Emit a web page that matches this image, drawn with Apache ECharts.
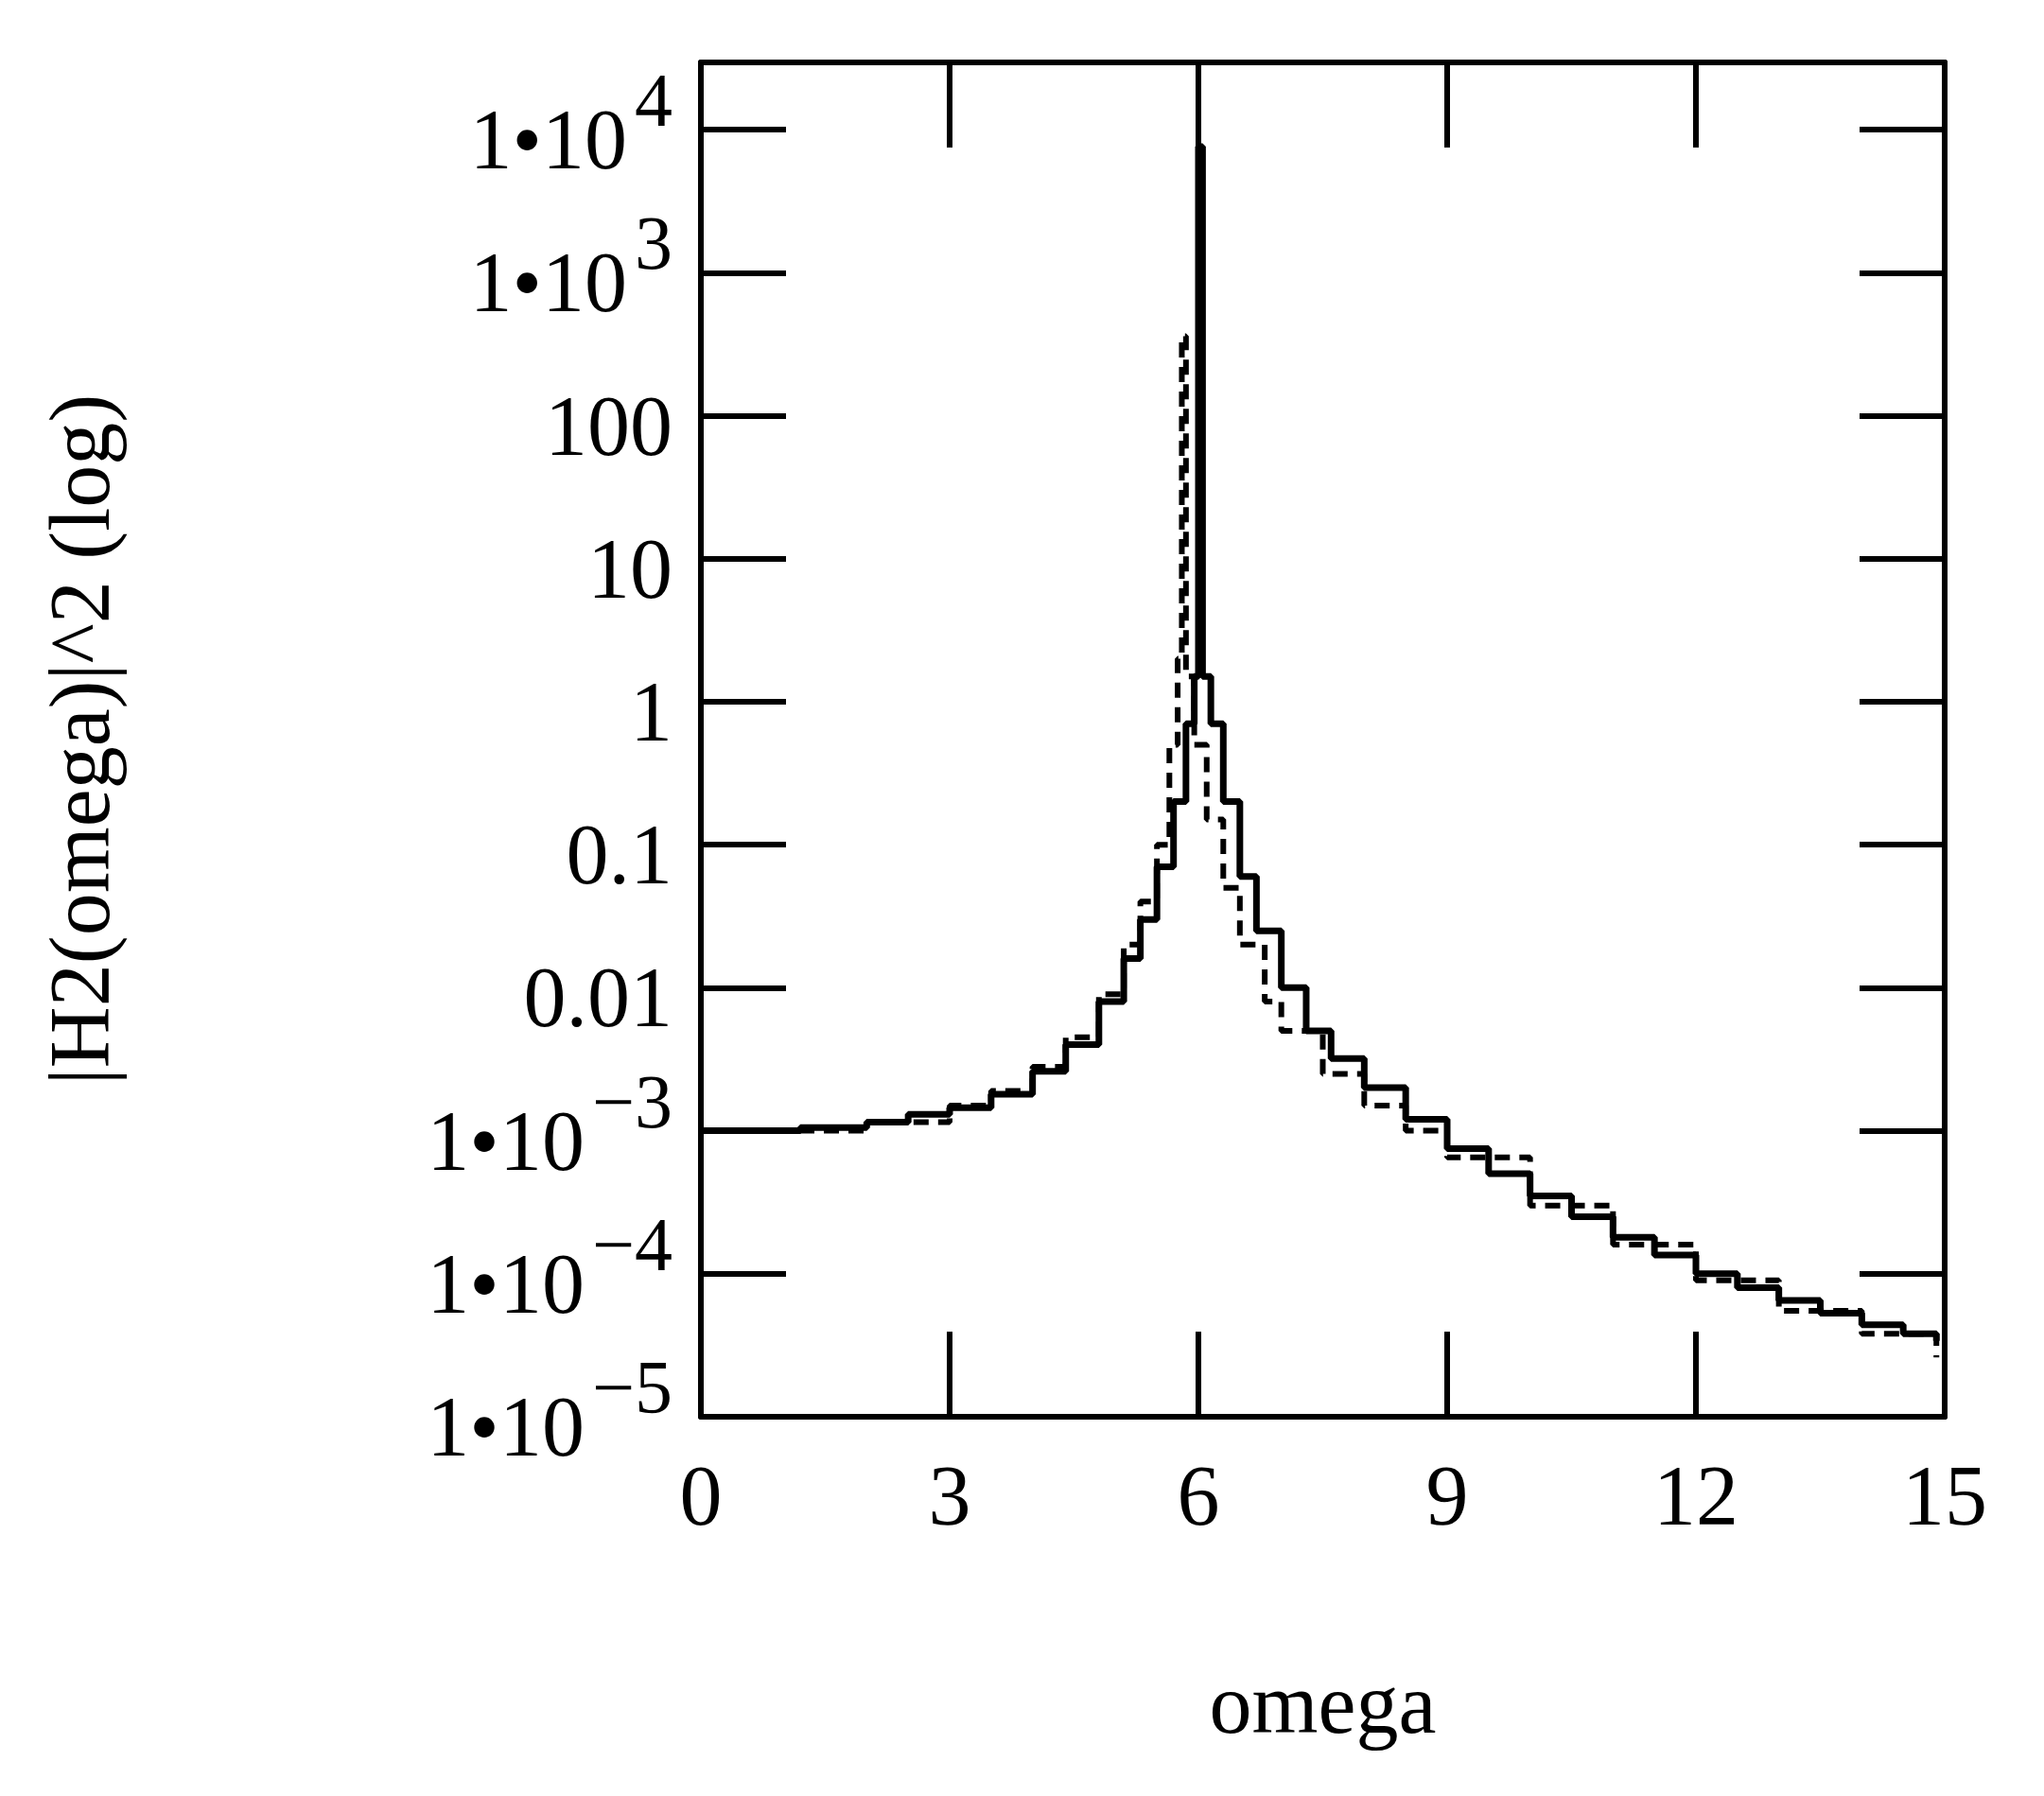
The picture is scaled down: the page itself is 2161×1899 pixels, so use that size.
<!DOCTYPE html>
<html><head><meta charset="utf-8">
<script src="https://cdn.jsdelivr.net/npm/echarts@6/dist/echarts.min.js"></script>
<style>html,body{margin:0;padding:0;background:#fff}#c{width:2161px;height:1899px}</style>
</head><body><div id="c"></div>
<script>
const xTicks = [0,3,6,9,12,15];
const yTickLabels = {"-5":"1•10|−5","-4":"1•10|−4","-3":"1•10|−3","-2":"0.01","-1":"0.1","0":"1","1":"10","2":"100","3":"1•10|3","4":"1•10|4"};
const omegaSolid = [0,1.2,2,2.5,3,3.5,4,4.4,4.8,5.1,5.3,5.5,5.7,5.85,5.95,6.0,6.05,6.15,6.3,6.5,6.7,7,7.3,7.6,8,8.5,9,9.5,10,10.5,11,11.5,12,12.5,13,13.5,14,14.5,14.9];
const h2Solid = [1e-3,1.05e-3,1.15e-3,1.3e-3,1.45e-3,1.8e-3,2.6e-3,4e-3,8e-3,0.016,0.03,0.07,0.2,0.7,1.5,7600,1.5,0.7,0.2,0.06,0.025,0.01,5e-3,3.2e-3,2e-3,1.2e-3,7.5e-4,5e-4,3.5e-4,2.5e-4,1.8e-4,1.35e-4,1e-4,8e-5,6.5e-5,5.3e-5,4.4e-5,3.8e-5,3.4e-5];
const omegaDashed = [0,2,3,3.5,4,4.4,4.8,5.1,5.3,5.5,5.65,5.75,5.8,5.85,5.95,6.1,6.3,6.5,6.8,7,7.5,8,8.5,9,10,11,12,13,14,14.9];
const h2Dashed = [1e-3,1.15e-3,1.5e-3,1.9e-3,2.8e-3,4.5e-3,9e-3,0.02,0.04,0.1,0.5,2,360,1.5,0.5,0.15,0.05,0.02,8e-3,5e-3,2.5e-3,1.5e-3,1e-3,6.5e-4,3e-4,1.6e-4,9e-5,5.5e-5,3.8e-5,2.6e-5];
const toPts = (xs, ys) => xs.map((x,i)=>[x, Math.log10(ys[i])]);
const font = 'Liberation Serif';
const chart = echarts.init(document.getElementById('c'));
const tickStyle = {show:true, inside:true, length:90, lineStyle:{color:'#000', width:6}};
const axLine = {show:true, onZero:false, lineStyle:{color:'#000', width:6}};
chart.setOption({
  animation:false,
  grid:{left:741, right:105, top:66, bottom:401},
  xAxis:[{type:'value', min:0, max:15, interval:3, position:'bottom',
    axisLine:axLine, axisTick:tickStyle, splitLine:{show:false},
    axisLabel:{fontFamily:font, fontSize:90, color:'#000', margin:45},
    name:'omega', nameLocation:'middle', nameGap:265, nameTextStyle:{fontFamily:font, fontSize:90, color:'#000'}},
    {type:'value', min:0, max:15, interval:3, position:'top', axisLine:axLine, axisTick:tickStyle, axisLabel:{show:false}, splitLine:{show:false}}],
  yAxis:[{type:'value', min:-5, max:4.47, interval:1, position:'left',
    axisLine:axLine, axisTick:tickStyle, splitLine:{show:false},
    axisLabel:{showMaxLabel:false, margin:30, color:'#000',
      formatter:v=>{const s=yTickLabels[String(Math.round(v))]; if(!s) return ''; if(s.indexOf('|')<0) return '{m|'+s+'}'; const [a,b]=s.split('|'); return '{m|'+a+'}{s|'+b+'}';},
      rich:{m:{fontFamily:font, fontSize:90, color:'#000', padding:[35,0,0,0]}, s:{fontFamily:font, fontSize:80, color:'#000', padding:[0,0,50,8]}}},
    name:'|H2(omega)|^2 (log)', nameLocation:'middle', nameGap:605, nameRotate:90, nameTextStyle:{fontFamily:font, fontSize:90, color:'#000'}},
    {type:'value', min:-5, max:4.47, interval:1, position:'right', axisLine:axLine, axisTick:tickStyle, axisLabel:{show:false}, splitLine:{show:false}}],
  series:[
    {type:'line', data:toPts(omegaSolid,h2Solid), step:'end', showSymbol:false, lineStyle:{color:'#000', width:7}},
    {type:'line', data:toPts(omegaDashed,h2Dashed), step:'end', showSymbol:false, lineStyle:{color:'#000', width:6, type:[16,10]}}
  ]
});
</script></body></html>
